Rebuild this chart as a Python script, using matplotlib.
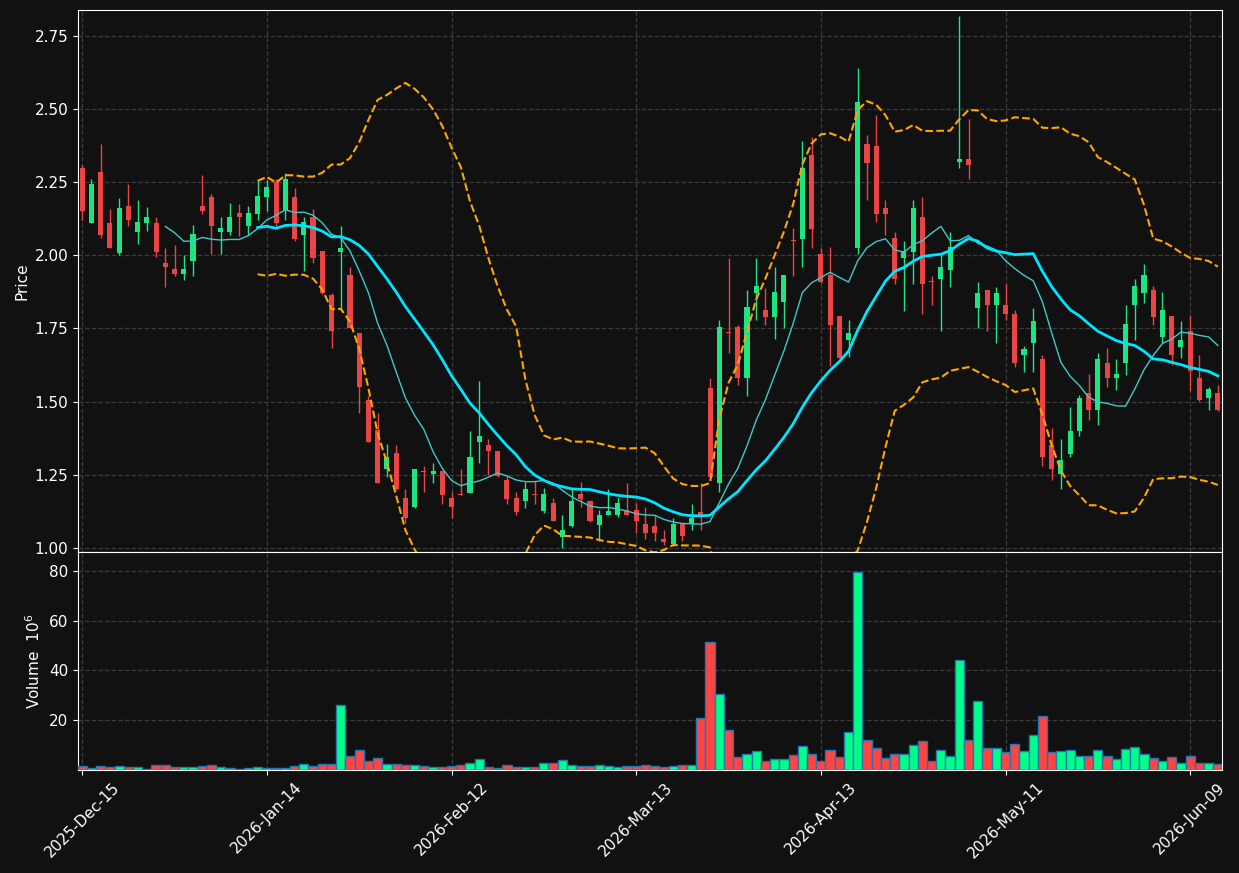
import numpy as np
import pandas as pd
import matplotlib
matplotlib.use("Agg")
import matplotlib.pyplot as plt

# OHLC (124 trading days)
opens = [2.30, 2.11, 2.285, 2.11, 2.01, 2.17, 2.08, 2.11, 2.11, 1.973,
         1.952, 1.938, 1.98, 2.17, 2.20, 2.08, 2.08, 2.144, 2.101, 2.142,
         2.20, 2.25, 2.156, 2.20, 2.07, 2.133, 2.014, 1.863, 2.012, 1.932,
         1.733, 1.504, 1.402, 1.269, 1.323, 1.171, 1.138, 1.261, 1.251, 1.261,
         1.171, 1.183, 1.188, 1.36, 1.352, 1.331, 1.233, 1.171, 1.158, 1.183,
         1.127, 1.151, 1.037, 1.073, 1.182, 1.161, 1.079, 1.111, 1.111, 1.129,
         1.129, 1.081, 1.073, 1.031, 1.013, 1.081, 1.081, 1.123, 1.548, 1.22,
         1.736, 1.754, 1.579, 1.87, 1.812, 1.789, 1.839, 2.052, 2.058, 2.343,
         2.004, 1.932, 1.792, 1.712, 2.025, 2.383, 2.374, 2.161, 2.061, 1.992,
         2.012, 2.133, 1.912, 1.919, 1.95, 2.319, 2.331, 1.821, 1.882, 1.831,
         1.831, 1.801, 1.658, 1.70, 1.644, 1.352, 1.251, 1.319, 1.399, 1.53,
         1.47, 1.632, 1.579, 1.632, 1.829, 1.87, 1.883, 1.72, 1.792, 1.688,
         1.742, 1.581, 1.512, 1.53]
highs = [2.31, 2.263, 2.382, 2.16, 2.198, 2.246, 2.19, 2.167, 2.13, 2.026,
         2.037, 2.002, 2.105, 2.276, 2.212, 2.13, 2.181, 2.177, 2.17, 2.257,
         2.257, 2.262, 2.283, 2.232, 2.131, 2.16, 2.016, 1.873, 2.102, 1.962,
         1.735, 1.519, 1.462, 1.355, 1.352, 1.20, 1.27, 1.281, 1.288, 1.262,
         1.19, 1.269, 1.399, 1.571, 1.371, 1.332, 1.248, 1.19, 1.224, 1.227,
         1.204, 1.17, 1.113, 1.20, 1.224, 1.162, 1.129, 1.20, 1.17, 1.221,
         1.152, 1.138, 1.111, 1.061, 1.101, 1.082, 1.15, 1.221, 1.581, 1.78,
         1.992, 1.762, 1.882, 1.992, 1.89, 1.962, 1.933, 2.095, 2.393, 2.405,
         2.024, 2.03, 1.793, 1.78, 2.643, 2.414, 2.482, 2.19, 2.081, 2.051,
         2.19, 2.20, 1.93, 2.004, 2.081, 2.821, 2.468, 1.908, 1.883, 1.893,
         1.902, 1.813, 1.69, 1.819, 1.658, 1.408, 1.373, 1.482, 1.521, 1.593,
         1.667, 1.682, 1.644, 1.831, 1.92, 1.971, 1.896, 1.876, 1.793, 1.774,
         1.795, 1.658, 1.549, 1.557]
lows = [2.123, 2.11, 2.06, 2.027, 2.002, 2.102, 2.039, 2.085, 1.995, 1.893,
        1.931, 1.917, 1.931, 2.142, 2.006, 2.006, 2.071, 2.068, 2.071, 2.121,
        2.152, 2.102, 2.121, 2.048, 1.948, 1.973, 1.868, 1.682, 1.813, 1.75,
        1.462, 1.36, 1.22, 1.242, 1.198, 1.083, 1.136, 1.19, 1.221, 1.15,
        1.10, 1.179, 1.187, 1.289, 1.248, 1.242, 1.15, 1.111, 1.137, 1.15,
        1.12, 1.09, 1.0, 1.072, 1.138, 1.089, 1.021, 1.11, 1.105, 1.11,
        1.049, 1.029, 1.021, 1.01, 1.004, 1.021, 1.061, 1.061, 1.24, 1.19,
        1.667, 1.557, 1.519, 1.78, 1.762, 1.714, 1.751, 1.93, 1.962, 2.027,
        1.907, 1.623, 1.648, 1.652, 2.004, 2.19, 2.113, 2.071, 1.902, 1.811,
        1.902, 1.798, 1.831, 1.742, 1.893, 2.298, 2.262, 1.751, 1.742, 1.702,
        1.78, 1.617, 1.602, 1.602, 1.28, 1.232, 1.20, 1.31, 1.381, 1.438,
        1.42, 1.549, 1.539, 1.59, 1.712, 1.837, 1.762, 1.702, 1.625, 1.649,
        1.537, 1.503, 1.471, 1.469]
closes = [2.152, 2.244, 2.069, 2.027, 2.161, 2.121, 2.113, 2.133, 2.012, 1.961,
          1.938, 1.952, 2.073, 2.152, 2.101, 2.093, 2.133, 2.132, 2.144, 2.202,
          2.233, 2.111, 2.263, 2.058, 2.113, 1.99, 1.87, 1.742, 2.024, 1.751,
          1.549, 1.361, 1.22, 1.311, 1.20, 1.101, 1.269, 1.259, 1.261, 1.18,
          1.138, 1.181, 1.311, 1.383, 1.329, 1.244, 1.168, 1.121, 1.202, 1.181,
          1.182, 1.09, 1.061, 1.161, 1.168, 1.09, 1.113, 1.124, 1.152, 1.111,
          1.09, 1.049, 1.049, 1.019, 1.081, 1.039, 1.102, 1.111, 1.242, 1.754,
          1.733, 1.579, 1.823, 1.894, 1.789, 1.875, 1.932, 2.050, 2.301, 2.09,
          1.908, 1.762, 1.649, 1.733, 2.524, 2.317, 2.143, 2.143, 1.919, 2.014,
          2.161, 1.902, 1.910, 1.962, 2.03, 2.331, 2.31, 1.873, 1.831, 1.873,
          1.799, 1.632, 1.679, 1.774, 1.31, 1.269, 1.30, 1.40, 1.513, 1.47,
          1.644, 1.579, 1.593, 1.764, 1.894, 1.932, 1.789, 1.812, 1.658, 1.712,
          1.605, 1.504, 1.542, 1.47]
# volume in millions
volumes = [1.7, 0.9, 1.7, 1.3, 1.7, 1.2, 1.3, 0.5, 2.1, 2.1,
           1.3, 1.3, 1.3, 1.7, 2.1, 1.3, 0.9, 0.5, 0.9, 1.3,
           0.9, 0.9, 0.9, 1.7, 2.6, 1.7, 2.6, 2.6, 25.9, 5.8,
           8.2, 3.8, 5.0, 2.6, 2.6, 2.1, 2.1, 1.7, 1.3, 1.3,
           1.7, 2.1, 3.0, 4.6, 1.3, 0.9, 2.1, 1.3, 1.3, 1.3,
           3.0, 3.0, 4.2, 2.1, 1.7, 1.7, 2.1, 1.7, 1.3, 1.7,
           1.7, 2.1, 1.7, 1.3, 1.7, 2.1, 2.1, 20.7, 51.3, 30.3,
           16.2, 5.4, 6.6, 7.8, 3.8, 4.6, 4.6, 6.2, 9.8, 6.6,
           3.8, 8.2, 5.4, 15.4, 79.5, 12.2, 9.0, 5.0, 6.6, 6.6,
           10.2, 11.8, 3.8, 8.2, 5.8, 44.0, 12.2, 27.5, 9.0, 9.0,
           7.4, 10.6, 7.8, 14.2, 21.5, 7.4, 7.8, 8.2, 5.8, 5.8,
           8.2, 5.8, 4.6, 8.6, 9.4, 6.6, 5.0, 3.8, 5.4, 3.0,
           5.8, 3.0, 3.0, 2.6]

tick_pos = [0, 20, 40, 60, 80, 100, 120]
tick_labels = ["2025-Dec-15", "2026-Jan-14", "2026-Feb-12", "2026-Mar-13",
               "2026-Apr-13", "2026-May-11", "2026-Jun-09"]

df = pd.DataFrame({"Open": opens, "High": highs, "Low": lows,
                   "Close": closes, "Volume": volumes})
x = np.arange(len(df))
ma10 = df["Close"].rolling(10).mean()
ma20 = df["Close"].rolling(20).mean()
std20 = df["Close"].rolling(20).std(ddof=0)
bb_up = ma20 + 2 * std20
bb_dn = ma20 - 2 * std20

bg = "#111111"
up_c, dn_c = "#1ee584", "#ea4444"
vup_c, vdn_c = "#00ff88", "#ff4444"

fig = plt.figure(figsize=(12.39, 8.73), dpi=100, facecolor=bg)
ax = fig.add_axes([0.063, 0.3677, 0.9233, 0.6208])
axv = fig.add_axes([0.063, 0.118, 0.9233, 0.2497], sharex=ax)

for a in (ax, axv):
    a.set_facecolor(bg)
    for s in a.spines.values():
        s.set_color("white")
    a.tick_params(colors="white", labelsize=11)
    a.grid(True, color="#3a3a3a", linestyle="--", linewidth=0.9)
    a.set_axisbelow(True)

up = df["Close"] >= df["Open"]
cols = np.where(up, up_c, dn_c)
body_lo = np.minimum(df["Open"], df["Close"])
body_h = np.abs(df["Close"] - df["Open"])
body_h = np.maximum(body_h, 0.004)
ax.vlines(x, df["Low"], df["High"], colors=cols, linewidth=1, zorder=2)
ax.bar(x, body_h, 0.55, bottom=body_lo, color=cols, zorder=3)

ax.plot(x, ma10, color="#40c8c8", linewidth=1, zorder=4)
ax.plot(x, ma20, color="#00e5ff", linewidth=2, zorder=4)
ax.plot(x, bb_up, color="orange", linestyle="--", linewidth=1.5, zorder=4)
ax.plot(x, bb_dn, color="orange", linestyle="--", linewidth=1.5, zorder=4)

ax.set_ylim(0.985, 2.84)
ax.set_xlim(-0.45, len(df) - 0.55)
ax.set_yticks([1.00, 1.25, 1.50, 1.75, 2.00, 2.25, 2.50, 2.75])
ax.set_yticklabels(["1.00", "1.25", "1.50", "1.75", "2.00", "2.25", "2.50", "2.75"])
ax.set_ylabel("Price", color="white", fontsize=11)
ax.tick_params(axis="x", labelbottom=False)

vcols = np.where(up, vup_c, vdn_c)
axv.bar(x, df["Volume"], 1.0, color=vcols, edgecolor="#1f77b4", linewidth=1, zorder=3)
axv.set_ylim(0, 87.5)
axv.set_yticks([20, 40, 60, 80])
axv.set_ylabel("Volume  $10^6$", color="white", fontsize=11)
axv.set_xticks(tick_pos)
axv.set_xticklabels(tick_labels, rotation=45)

fig.savefig("out.png", dpi=100, facecolor=bg)
